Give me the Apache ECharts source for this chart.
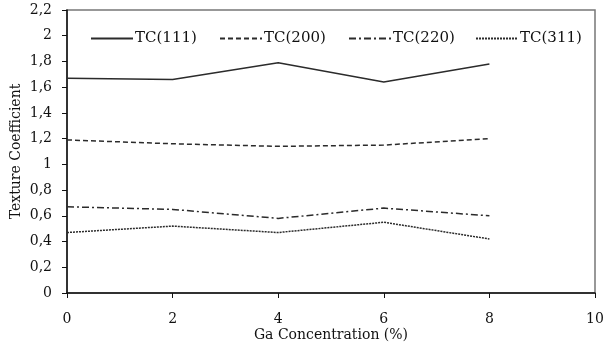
<!DOCTYPE html>
<html><head><meta charset="utf-8">
<script src="https://cdn.jsdelivr.net/npm/echarts@6/dist/echarts.min.js"></script>
<style>html,body{margin:0;padding:0;background:#fff}#c{width:604px;height:352px}</style>
</head><body><div id="c"></div>
<script>
const gaConc = [0, 2, 4, 6, 8];
const tc111 = [1.67, 1.66, 1.79, 1.64, 1.78];
const tc200 = [1.19, 1.16, 1.14, 1.15, 1.20];
const tc220 = [0.67, 0.65, 0.58, 0.66, 0.60];
const tc311 = [0.47, 0.52, 0.47, 0.55, 0.42];
const seriesNames = ['TC(111)', 'TC(200)', 'TC(220)', 'TC(311)'];

const font = 'DejaVu Serif';
const col = '#2b2b2b';
const dashes = ['solid', [5, 3], [7, 3, 2, 3], [2, 1]];
const data = [tc111, tc200, tc220, tc311];
const legendLeft = [85, 214, 343, 470];

const chart = echarts.init(document.getElementById('c'));
chart.setOption({
  animation: false,
  grid: { left: 67, right: 9, top: 10, bottom: 59, show: true, borderColor: '#777', borderWidth: 1.5, outerBoundsMode: 'none', containLabel: false },
  legend: seriesNames.map((n, i) => ({
    data: [n], left: legendLeft[i], top: 26, itemWidth: 42, itemHeight: 10, itemGap: 4,
    itemStyle: { opacity: 0 },
    textStyle: { fontFamily: font, fontSize: 15, color: '#111', padding: [0, 0, 0, -3] }
  })),
  xAxis: {
    type: 'value', min: 0, max: 10, interval: 2,
    name: 'Ga Concentration (%)', nameLocation: 'middle', nameGap: 35, nameMoveOverlap: false,
    nameTextStyle: { fontFamily: font, fontSize: 14, color: '#111' },
    axisLine: { lineStyle: { color: '#111', width: 1.5 } },
    axisTick: { length: 5, lineStyle: { color: '#111' } },
    axisLabel: { fontFamily: font, fontSize: 14, color: '#111', margin: 19 },
    splitLine: { show: false }
  },
  yAxis: {
    type: 'value', min: 0, max: 2.2, interval: 0.2,
    name: 'Texture Coefficient', nameLocation: 'middle', nameGap: 44, nameMoveOverlap: false,
    nameTextStyle: { fontFamily: font, fontSize: 14, color: '#111' },
    axisLine: { show: true, lineStyle: { color: '#111', width: 1.5 } },
    axisTick: { show: true, length: 5, lineStyle: { color: '#111' } },
    axisLabel: { fontFamily: font, fontSize: 14, color: '#111', margin: 15,
      formatter: v => (Math.round(v * 10) / 10).toString().replace('.', ',') },
    splitLine: { show: false }
  },
  series: seriesNames.map((n, i) => ({
    name: n, type: 'line', symbol: 'none',
    data: gaConc.map((x, j) => [x, data[i][j]]),
    lineStyle: { color: col, width: 1.5, type: dashes[i] },
    itemStyle: { color: col }
  }))
});
</script></body></html>
